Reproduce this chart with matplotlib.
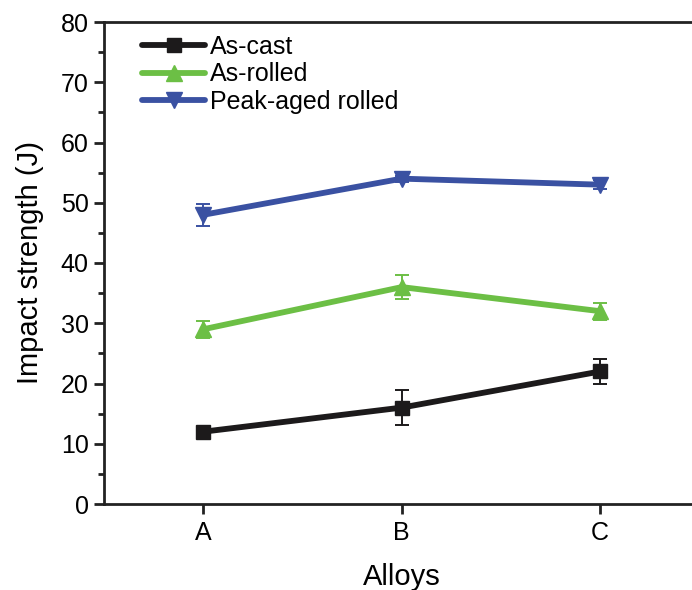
import matplotlib
matplotlib.use("Agg")
import matplotlib.pyplot as plt
from matplotlib.ticker import MultipleLocator
from matplotlib.lines import Line2D

plt.rcParams['font.family'] = ['Liberation Sans', 'DejaVu Sans']

alloys = ['A', 'B', 'C']
as_cast = [12, 16, 22]
as_cast_err = [0.5, 2.9, 2.1]
as_rolled = [29, 36, 32]
as_rolled_err = [1.4, 2.0, 1.4]
peak_aged = [48, 54, 53]
peak_aged_err = [1.8, 0.5, 0.8]

fig = plt.figure(figsize=(6.92, 5.90), dpi=100)
W, H = 692, 590
left, right, top, bottom = 104, 699.5, 22, 504
ax = fig.add_axes([left / W, 1 - bottom / H, (right - left) / W, (bottom - top) / H])

x = list(range(len(alloys)))
series = [
    (as_cast, as_cast_err, '#1c1a1b', 's', 'As-cast', 10),
    (as_rolled, as_rolled_err, '#6cbf45', '^', 'As-rolled', 11),
    (peak_aged, peak_aged_err, '#3a51a2', 'v', 'Peak-aged rolled', 11),
]
handles = []
for vals, err, col, mk, lab, ms in series:
    ax.errorbar(x, vals, yerr=err, color=col, marker=mk, markersize=ms,
                linewidth=4.2, elinewidth=1.4, capsize=5, capthick=1.4)
    handles.append(Line2D([], [], color=col, marker=mk, markersize=ms,
                          linewidth=4.2, solid_capstyle='round', label=lab))

ax.set_xlim(-0.5, 2.5)
ax.set_ylim(0, 80)
ax.set_xticks(x)
ax.set_xticklabels(alloys)
ax.yaxis.set_major_locator(MultipleLocator(10))
ax.yaxis.set_minor_locator(MultipleLocator(5))
for s in ax.spines.values():
    s.set_linewidth(2.0)
    s.set_color('#222222')
ax.tick_params(axis='both', which='major', direction='out', length=7, width=2,
               labelsize=18, color='#222222', pad=4)
ax.tick_params(axis='y', which='minor', direction='out', length=4, width=2,
               color='#222222')
ax.tick_params(axis='x', which='major', pad=5)
ax.set_ylabel('Impact strength (J)', fontsize=21, labelpad=12)
ax.set_xlabel('Alloys', fontsize=21, labelpad=13)

leg = ax.legend(handles=handles, loc='upper left', bbox_to_anchor=(0.035, 1.01),
                frameon=False, fontsize=18, handlelength=2.5, handletextpad=0.2,
                labelspacing=0.15, borderaxespad=0.3)

fig.savefig('out.png', dpi=100)
